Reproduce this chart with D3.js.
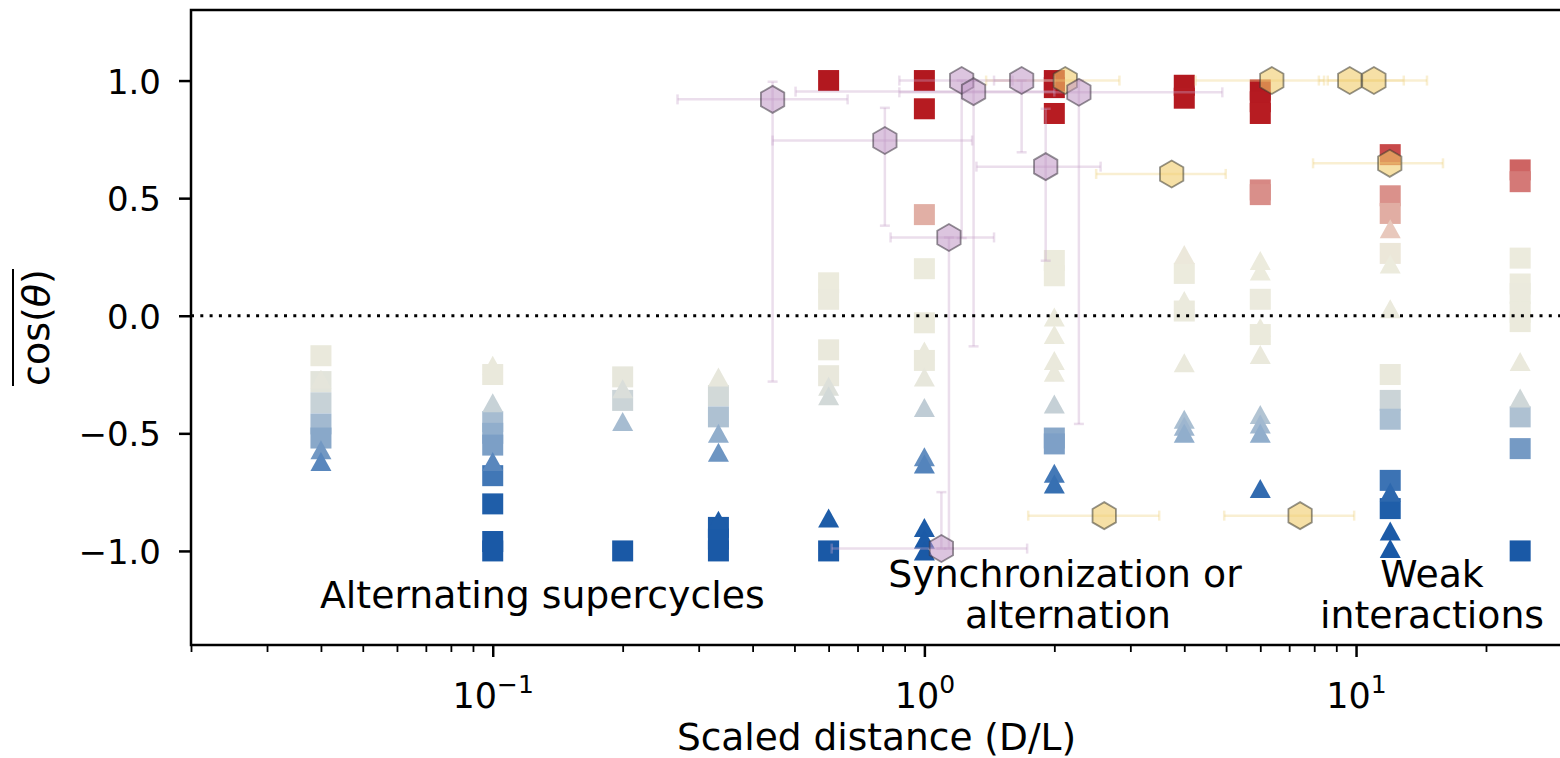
<!DOCTYPE html>
<html lang="en">
<head>
<meta charset="UTF-8">
<title>Mean cos(theta) vs scaled distance</title>
<style>
  html, body { margin: 0; padding: 0; background: #fff; overflow: hidden; }
  svg { display: block; font-family: "DejaVu Sans", sans-serif; }
</style>
</head>
<body>
<svg id="chart"></svg>
<script src="https://d3js.org/d3.v7.min.js"></script>
<script>
// simulated columns, scaled distance D/L
const columnX = [0.04, 0.1, 0.2, 1 / 3, 0.6, 1, 2, 4, 6, 12, 24];
// mean cos(theta) per column, square markers
const squareVals = [
  [-0.17, -0.28, -0.37, -0.46, -0.52],
  [-0.25, -0.45, -0.50, -0.55, -0.68, -0.80, -0.96, -1.0],
  [-0.26, -0.36, -1.0],
  [-0.34, -0.43, -0.90, -0.95, -1.0],
  [1.0, 0.14, 0.07, -0.145, -0.255, -1.0],
  [1.0, 0.88, 0.43, 0.20, -0.03, -0.19],
  [1.0, 0.97, 0.86, 0.235, 0.17, -0.52, -0.545],
  [0.98, 0.925, 0.18, 0.02],
  [0.96, 0.91, 0.86, 0.535, 0.515, 0.07, -0.08],
  [0.685, 0.51, 0.435, 0.265, -0.25, -0.36, -0.44, -0.70, -0.82],
  [0.62, 0.57, 0.245, 0.135, 0.095, 0.015, -0.025, -0.43, -0.565, -1.0]
];
// mean cos(theta) per column, triangle markers
const triangleVals = [
  [-0.27, -0.57, -0.62],
  [-0.21, -0.37, -0.62],
  [-0.31, -0.45],
  [-0.26, -0.50, -0.58, -0.87],
  [-0.30, -0.34, -0.86],
  [-0.15, -0.26, -0.39, -0.60, -0.63, -0.90, -0.95, -1.0],
  [-0.005, -0.08, -0.19, -0.24, -0.375, -0.67, -0.715],
  [0.26, 0.065, -0.20, -0.44, -0.47, -0.50],
  [0.235, 0.19, -0.05, -0.165, -0.42, -0.46, -0.50, -0.735],
  [0.37, 0.22, 0.03, -0.75, -0.915, -0.99],
  [0.03, -0.195, -0.35]
];

// purple hexagons with x and y error bars
const expX   = [0.445, 0.81, 1.14, 1.095, 1.22, 1.30, 1.68, 1.91, 2.28];
const expY   = [0.92, 0.745, 0.333, -0.99, 1.0, 0.953, 1.0, 0.634, 0.95];
const expXLo = [0.268, 0.445, 0.835, 0.61, 0.875, 0.503, 1.45, 1.32, 0.875];
const expXHi = [0.664, 1.29, 1.45, 1.73, 1.6, 2.0, 2.0, 2.56, 4.9];
const expYLo = [-0.28, 0.383, -0.99, -0.99, 0.33, -0.13, 0.695, 0.234, -0.46];
const expYHi = [0.995, 0.884, 0.333, -0.75, 1.0, 1.0, 1.0, 0.88, 1.0];

// yellow hexagons with x error bars
const simX   = [2.12, 6.38, 9.67, 11.0, 3.74, 11.97, 2.61, 7.42];
const simY   = [1.0, 1.0, 1.0, 1.0, 0.603, 0.648, -0.85, -0.85];
const simXLo = [1.39, 4.25, 8.2, 8.6, 2.50, 7.95, 1.74, 4.95];
const simXHi = [2.83, 8.43, 12.9, 14.6, 4.99, 15.9, 3.5, 9.9];

const yTicks = [-1.0, -0.5, 0.0, 0.5, 1.0];
const xMajor = [0.1, 1, 10];

const W = 1560, H = 758;
const plot = { left: 191, right: 1562, top: 10, bottom: 645 };

const svg = d3.select("#chart").attr("width", W).attr("height", H);

const x = d3.scaleLog().domain([0.02, 30]).range([plot.left, plot.right]);
const y = d3.scaleLinear().domain([-1.4, 1.3]).range([plot.bottom, plot.top]);

const color = d3.scaleLinear()
  .domain([-1, -0.8, -0.65, -0.55, -0.45, -0.35, -0.25, 0.25, 0.35, 0.45, 0.55, 0.68, 0.85, 1])
  .range(["#1a59a6", "#1f5ea9", "#4a7db9", "#7c9fc6", "#a6bcd1", "#cfd7d8", "#eae9dc",
          "#ecebdd", "#ead0c4", "#dfa79d", "#d6827f", "#c84a4b", "#b71c22", "#b2181f"])
  .clamp(true);

svg.append("defs").append("clipPath").attr("id", "clip")
  .append("rect")
  .attr("x", plot.left).attr("y", plot.top)
  .attr("width", plot.right - plot.left).attr("height", plot.bottom - plot.top);

const g = svg.append("g").attr("clip-path", "url(#clip)");

// flatten columns into points
const squares = [], triangles = [];
columnX.forEach((cx, i) => {
  squareVals[i].forEach(v => squares.push({ x: cx, v }));
  triangleVals[i].forEach(v => triangles.push({ x: cx, v }));
});

const sq = 21;
g.selectAll(".sq").data(squares).join("rect")
  .attr("class", "sq")
  .attr("x", d => x(d.x) - sq / 2)
  .attr("y", d => y(d.v) - sq / 2)
  .attr("width", sq).attr("height", sq)
  .attr("fill", d => color(d.v));

const tw = 21, th = 19;
const triPath = `M0,${-th / 2}L${tw / 2},${th / 2}L${-tw / 2},${th / 2}Z`;
g.selectAll(".tri").data(triangles).join("path")
  .attr("class", "tri")
  .attr("d", triPath)
  .attr("transform", d => `translate(${x(d.x)},${y(d.v)})`)
  .attr("fill", d => color(d.v));

// error bars
const cap = 5;
const exp = expX.map((v, i) => ({ x: v, y: expY[i], xlo: expXLo[i], xhi: expXHi[i], ylo: expYLo[i], yhi: expYHi[i] }));
const sim = simX.map((v, i) => ({ x: v, y: simY[i], xlo: simXLo[i], xhi: simXHi[i] }));

function drawErr(sel, d, withY) {
  const px = x(d.x), py = y(d.y);
  const segs = [
    [x(d.xlo), py, x(d.xhi), py],
    [x(d.xlo), py - cap, x(d.xlo), py + cap],
    [x(d.xhi), py - cap, x(d.xhi), py + cap]
  ];
  if (withY) {
    segs.push([px, y(d.ylo), px, y(d.yhi)]);
    segs.push([px - cap, y(d.ylo), px + cap, y(d.ylo)]);
    segs.push([px - cap, y(d.yhi), px + cap, y(d.yhi)]);
  }
  segs.forEach(s => sel.append("line")
    .attr("x1", s[0]).attr("y1", s[1]).attr("x2", s[2]).attr("y2", s[3]));
}

const errSim = g.append("g").attr("stroke", "#eed58a").attr("stroke-opacity", 0.38).attr("stroke-width", 2.5);
sim.forEach(d => drawErr(errSim, d, false));
const errExp = g.append("g").attr("stroke", "#c7a3c9").attr("stroke-opacity", 0.36).attr("stroke-width", 2.5);
exp.forEach(d => drawErr(errExp, d, true));

// zero line
g.append("line")
  .attr("x1", plot.left).attr("x2", plot.right)
  .attr("y1", y(0)).attr("y2", y(0))
  .attr("stroke", "#000").attr("stroke-width", 3)
  .attr("stroke-dasharray", "3,6.3");

// hexagons
const hr = 13.5;
const hexPath = d3.range(6).map(k => {
  const a = -Math.PI / 2 + k * Math.PI / 3;
  return [hr * Math.cos(a), hr * Math.sin(a)];
});
const hexD = "M" + hexPath.map(p => p.join(",")).join("L") + "Z";

g.selectAll(".hexS").data(sim).join("path")
  .attr("class", "hexS")
  .attr("d", hexD)
  .attr("transform", d => `translate(${x(d.x)},${y(d.y)})`)
  .attr("fill", "#f0cc6a").attr("fill-opacity", 0.6)
  .attr("stroke", "#3d3a30").attr("stroke-opacity", 0.55).attr("stroke-width", 1.8);

g.selectAll(".hexE").data(exp).join("path")
  .attr("class", "hexE")
  .attr("d", hexD)
  .attr("transform", d => `translate(${x(d.x)},${y(d.y)})`)
  .attr("fill", "#bf96c4").attr("fill-opacity", 0.55)
  .attr("stroke", "#3d3540").attr("stroke-opacity", 0.55).attr("stroke-width", 1.8);

// regime annotations
const notes = svg.append("g").attr("font-size", 37.8).attr("fill", "#000");
notes.append("text").attr("x", 320).attr("y", 608).text("Alternating supercycles");
notes.append("text").attr("x", 1065).attr("y", 587).attr("text-anchor", "middle").text("Synchronization or");
notes.append("text").attr("x", 1068).attr("y", 628).attr("text-anchor", "middle").text("alternation");
notes.append("text").attr("x", 1432).attr("y", 587).attr("text-anchor", "middle").text("Weak");
notes.append("text").attr("x", 1432).attr("y", 628).attr("text-anchor", "middle").text("interactions");

// axes
const yAxisG = svg.append("g")
  .attr("transform", `translate(${plot.left},0)`)
  .call(d3.axisLeft(y).tickValues(yTicks).tickFormat(d3.format(".1f")).tickSize(12).tickPadding(18));
yAxisG.select(".domain").remove();
yAxisG.selectAll(".tick line").attr("stroke-width", 2.5);
yAxisG.selectAll(".tick text").attr("font-size", 34).attr("dy", "0.37em")
  .attr("font-family", "DejaVu Sans");

const minor = [];
[0.01, 0.1, 1, 10].forEach(dec => {
  for (let k = 2; k <= 9; k++) {
    const v = dec * k;
    if (v >= 0.02 && v <= 30) minor.push(v);
  }
});

const xMinorG = svg.append("g")
  .attr("transform", `translate(0,${plot.bottom})`)
  .call(d3.axisBottom(x).tickValues(minor).tickFormat("").tickSize(7));
xMinorG.select(".domain").remove();
xMinorG.selectAll(".tick line").attr("stroke-width", 1.8);

const xAxisG = svg.append("g")
  .attr("transform", `translate(0,${plot.bottom})`)
  .call(d3.axisBottom(x).tickValues(xMajor).tickSize(12));
xAxisG.select(".domain").remove();
xAxisG.selectAll(".tick line").attr("stroke-width", 2.5);
xAxisG.selectAll(".tick text").each(function (d) {
  const t = d3.select(this).text("")
    .attr("y", 63).attr("dy", null)
    .attr("font-size", 35).attr("font-family", "DejaVu Sans");
  t.append("tspan").text("10");
  t.append("tspan").attr("dy", -15).attr("font-size", 25)
    .text(d3.format("d")(Math.round(Math.log10(d))));
});

// frame
const frame = svg.append("g").attr("stroke", "#000").attr("stroke-width", 2.5).attr("fill", "none");
frame.append("rect")
  .attr("x", plot.left).attr("y", plot.top)
  .attr("width", plot.right - plot.left).attr("height", plot.bottom - plot.top);

// axis labels
svg.append("text")
  .attr("x", (plot.left + plot.right) / 2).attr("y", 750)
  .attr("text-anchor", "middle").attr("font-size", 37.5)
  .text("Scaled distance (D/L)");

const yl = svg.append("g").attr("transform", `translate(49,${(plot.top + plot.bottom) / 2}) rotate(-90)`);
const ylText = yl.append("text").attr("text-anchor", "middle").attr("font-size", 38);
ylText.append("tspan").text("cos(");
ylText.append("tspan").attr("font-style", "italic").text("θ");
ylText.append("tspan").text(")");
const yw = ylText.node().getComputedTextLength();
yl.append("line")
  .attr("x1", -yw / 2).attr("x2", yw / 2)
  .attr("y1", -36).attr("y2", -36)
  .attr("stroke", "#000").attr("stroke-width", 2);
</script>
</body>
</html>
